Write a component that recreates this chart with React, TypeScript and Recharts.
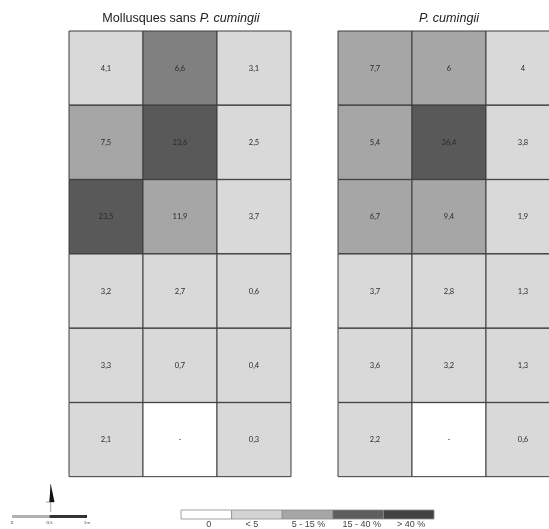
import React from "react";
import { BarChart, Bar, Cell, XAxis, YAxis, LabelList } from "recharts";

const columns = ["c0", "c1", "c2"];
const rowNames = ["r1", "r2", "r3", "r4", "r5", "r6"];

const leftValues = [
  ["4,1", "6,6", "3,1"],
  ["7,5", "23,6", "2,5"],
  ["23,5", "11,9", "3,7"],
  ["3,2", "2,7", "0,6"],
  ["3,3", "0,7", "0,4"],
  ["2,1", "-", "0,3"],
];
const leftShades = [
  ["#d9d9d9", "#808080", "#d9d9d9"],
  ["#a6a6a6", "#595959", "#d9d9d9"],
  ["#595959", "#a6a6a6", "#d9d9d9"],
  ["#d9d9d9", "#d9d9d9", "#d9d9d9"],
  ["#d9d9d9", "#d9d9d9", "#d9d9d9"],
  ["#d9d9d9", "#ffffff", "#d9d9d9"],
];
const rightValues = [
  ["7,7", "6", "4"],
  ["5,4", "36,4", "3,8"],
  ["6,7", "9,4", "1,9"],
  ["3,7", "2,8", "1,3"],
  ["3,6", "3,2", "1,3"],
  ["2,2", "-", "0,6"],
];
const rightShades = [
  ["#a6a6a6", "#a6a6a6", "#d9d9d9"],
  ["#a6a6a6", "#595959", "#d9d9d9"],
  ["#a6a6a6", "#a6a6a6", "#d9d9d9"],
  ["#d9d9d9", "#d9d9d9", "#d9d9d9"],
  ["#d9d9d9", "#d9d9d9", "#d9d9d9"],
  ["#d9d9d9", "#ffffff", "#d9d9d9"],
];

const legendKeys = ["s0", "s1", "s2", "s3", "s4"];
const legendColors = ["#ffffff", "#d4d4d4", "#a6a6a6", "#5e5e5e", "#424242"];
const legendLabels = ["0", "< 5", "5 - 15 %", "15 - 40 %", "> 40 %"];
const legendTicks = [0.55, 1.4, 2.52, 3.57, 4.55];

const scaleKeys = ["first", "second"];
const scaleColors = ["#b0b0b0", "#333333"];
const scaleTicks = [0, 0.5, 1];
const scaleLabels = ["0", "0,5", "1m"];

function Panel({ values, shades, left }: { values: string[][]; shades: string[][]; left: number }) {
  const data = rowNames.map((row, i) => {
    const item: Record<string, string | number> = { row, unit: 1 };
    columns.forEach((c, j) => (item[c] = values[i][j]));
    return item;
  });
  return (
    <div style={{ position: "absolute", left, top: 30 }}>
      <BarChart
        width={224}
        height={448}
        data={data}
        layout="vertical"
        barCategoryGap={0}
        margin={{ top: 1, right: 1, bottom: 1, left: 1 }}
      >
        <XAxis type="number" domain={[0, 3]} hide />
        <YAxis type="category" dataKey="row" hide />
        {columns.map((c, j) => (
          <Bar key={c} dataKey="unit" stackId="a" isAnimationActive={false} stroke="#3c3c3c" strokeWidth={1}>
            {rowNames.map((r, i) => (
              <Cell key={r} fill={shades[i][j]} />
            ))}
            <LabelList dataKey={c} position="center" fill="#2a2a2a" fontSize={7.5} fontFamily="Lato" />
          </Bar>
        ))}
      </BarChart>
    </div>
  );
}

function LegendBar() {
  const row: Record<string, string | number> = { name: "legend" };
  legendKeys.forEach((k) => (row[k] = 1));
  return (
    <div style={{ position: "absolute", left: 171, top: 509 }}>
      <BarChart
        width={273}
        height={20}
        data={[row]}
        layout="vertical"
        barCategoryGap={0}
        margin={{ top: 1, right: 10, bottom: 0, left: 10 }}
      >
        <XAxis
          type="number"
          domain={[0, 5]}
          ticks={legendTicks}
          tickFormatter={(_v: number, i: number) => legendLabels[i]}
          axisLine={false}
          tickLine={false}
          height={10}
          interval={0}
          tickSize={2}
          tickMargin={0}
          tick={{ fontSize: 9, fontFamily: "Liberation Sans", fill: "#444" }}
        />
        <YAxis type="category" dataKey="name" hide />
        {legendKeys.map((k, i) => (
          <Bar key={k} dataKey={k} stackId="a" isAnimationActive={false} fill={legendColors[i]} stroke="#8a8a8a" strokeWidth={0.8} />
        ))}
      </BarChart>
    </div>
  );
}

function ScaleBar() {
  const row = { name: "scale", first: 0.5, second: 0.5 };
  return (
    <div style={{ position: "absolute", left: 2, top: 515 }}>
      <BarChart
        width={95}
        height={12}
        data={[row]}
        layout="vertical"
        barCategoryGap={0}
        margin={{ top: 0, right: 10, bottom: 0, left: 10 }}
      >
        <XAxis
          type="number"
          domain={[0, 1]}
          ticks={scaleTicks}
          tickFormatter={(_v: number, i: number) => scaleLabels[i]}
          axisLine={false}
          tickLine={false}
          height={9}
          interval={0}
          tickSize={3}
          tickMargin={0}
          tick={{ fontSize: 4.5, fontFamily: "Lato", fill: "#555" }}
        />
        <YAxis type="category" dataKey="name" hide />
        {scaleKeys.map((k, i) => (
          <Bar key={k} dataKey={k} stackId="a" isAnimationActive={false} fill={scaleColors[i]} />
        ))}
      </BarChart>
    </div>
  );
}

function NorthArrow() {
  return (
    <svg width={20} height={32} style={{ position: "absolute", left: 41, top: 482 }}>
      <line x1={9.7} y1={2} x2={9.7} y2={30} stroke="#888" strokeWidth={0.8} />
      <line x1={5} y1={20} x2={13} y2={20} stroke="#888" strokeWidth={0.8} />
      <polygon points="9.7,2 8.3,20 13.5,20" fill="#111" />
    </svg>
  );
}

const titleStyle: React.CSSProperties = {
  position: "absolute",
  top: 11,
  transform: "translateX(-50%)",
  whiteSpace: "nowrap",
  fontFamily: "Liberation Sans",
  fontSize: 12.6,
  lineHeight: "14px",
  color: "#222",
};

export default function App() {
  return (
    <div
      style={{
        position: "fixed",
        left: 0,
        top: 0,
        width: 549,
        height: 529,
        overflow: "hidden",
        background: "#fff",
        filter: "blur(0.35px)",
      }}
    >
      <div style={{ ...titleStyle, left: 181 }}>
        Mollusques sans <i>P. cumingii</i>
      </div>
      <div style={{ ...titleStyle, left: 449 }}>
        <i>P. cumingii</i>
      </div>
      <Panel values={leftValues} shades={leftShades} left={68} />
      <Panel values={rightValues} shades={rightShades} left={337} />
      <NorthArrow />
      <ScaleBar />
      <LegendBar />
    </div>
  );
}
